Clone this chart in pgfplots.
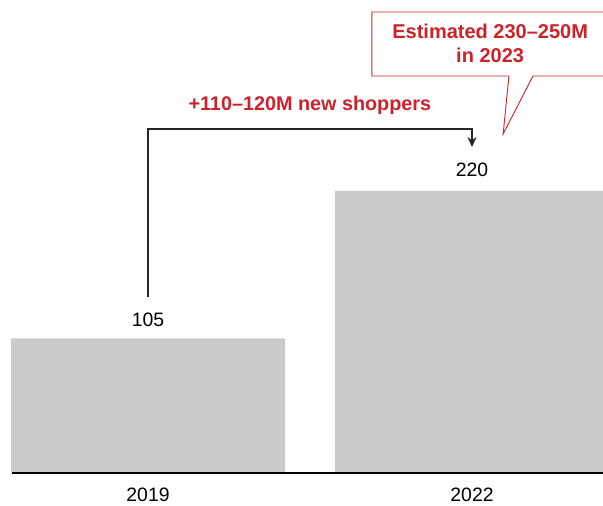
\documentclass[border=0pt]{standalone}
\usepackage{fontspec}
\setmainfont{Liberation Sans}
\usepackage{pgfplots}
\pgfplotsset{compat=1.18}
\usetikzlibrary{arrows.meta}
\definecolor{barfill}{RGB}{203,203,203}
\definecolor{accent}{RGB}{206,34,43}
\begin{document}
\begin{tikzpicture}
\useasboundingbox (0,0) rectangle (603bp,506bp);
\begin{axis}[
  at={(12bp,33bp)}, anchor=south west,
  scale only axis, width=591bp, height=473bp,
  xmin=-0.4198, xmax=1.4043, ymin=0, ymax=369,
  axis x line=bottom, axis y line=none,
  x axis line style={line width=2.7bp, -},
  xtick={0,1}, xticklabels={2019,2022},
  major tick length=0pt,
  /pgf/number format/assume math mode=true,
  xticklabel style={font=\fontsize{19.4bp}{23bp}\selectfont, yshift=-11bp},
  ytick=\empty,
  clip=false, axis on top,
  ybar, bar width=274bp,
]
\addplot[fill=barfill, draw=none] coordinates {(0,105) (1,220)};
\node[font=\fontsize{19.4bp}{23bp}\selectfont] at (axis cs:0,119.3) {105};
\node[font=\fontsize{19.4bp}{23bp}\selectfont] at (axis cs:1,236.3) {220};
\draw[black!85, line width=1.3bp, -{Stealth[length=10bp,width=9bp]}]
  (axis cs:0,137.3) -- (axis cs:0,268.3) -- (axis cs:1,268.3) -- (axis cs:1,254.3);
\node[text=accent, font=\bfseries\fontsize{19.8bp}{23bp}\selectfont] at (axis cs:0.4995,287) {+110–120M new shoppers};
\draw[accent, line width=0.9bp, fill=white]
  (axis cs:0.691,359.6) -- (axis cs:1.45,359.6) -- (axis cs:1.45,309.7)
  -- (axis cs:1.188,309.7) -- (axis cs:1.096,264.4) -- (axis cs:1.114,309.7)
  -- (axis cs:0.691,309.7) -- cycle;
\node[text=accent, font=\bfseries\fontsize{20bp}{23.5bp}\selectfont, align=center] at (axis cs:1.056,335) {Estimated 230–250M\\in 2023};
\end{axis}
\end{tikzpicture}
\end{document}
